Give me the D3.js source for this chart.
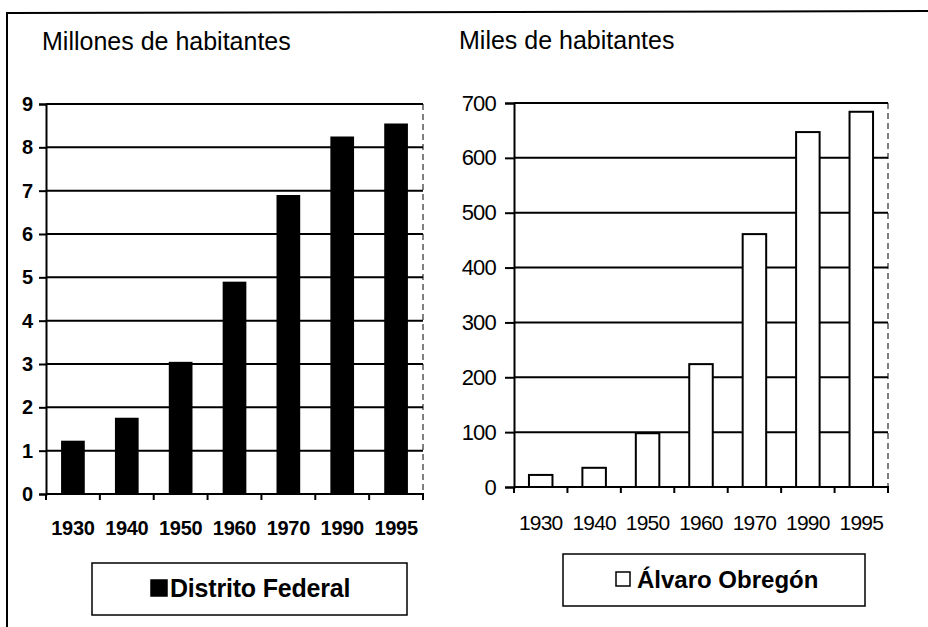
<!DOCTYPE html>
<html>
<head>
<meta charset="utf-8">
<script src="https://cdn.jsdelivr.net/npm/d3@7"></script>
<style>
  html, body { margin: 0; padding: 0; background: #fff; }
  svg { display: block; font-family: "Liberation Sans", Arial, sans-serif; }
</style>
</head>
<body>
<svg id="chart" width="928" height="627"></svg>
<script>
// ---- data ----
const years = ["1930", "1940", "1950", "1960", "1970", "1990", "1995"];
const distritoFederal = [1.23, 1.76, 3.05, 4.9, 6.9, 8.25, 8.55];   // millones
const alvaroObregon = [22, 35, 98, 224, 461, 647, 684];            // miles
const leftTicks = [0, 1, 2, 3, 4, 5, 6, 7, 8, 9];
const rightTicks = [0, 100, 200, 300, 400, 500, 600, 700];
const leftTitle = "Millones de habitantes";
const rightTitle = "Miles de habitantes";
const leftLegend = "Distrito Federal";
const rightLegend = "Álvaro Obregón";

const svg = d3.select("#chart");

// outer frame (cut off at right/bottom)
svg.append("path")
  .attr("d", "M7,640 L7,13 L940,11")
  .attr("fill", "none").attr("stroke", "#000").attr("stroke-width", 2);

function panel(cfg) {
  const g = svg.append("g");
  const x = d3.scaleBand().domain(years).range([cfg.x0, cfg.x1]).paddingInner(0.56).paddingOuter(0.28);
  const xb = d3.scaleBand().domain(years).range([cfg.x0, cfg.x1]);
  const y = d3.scaleLinear().domain([0, cfg.max]).range([cfg.y0, cfg.y1]);

  // plot area right border (dashed)
  g.append("line")
    .attr("x1", cfg.x1).attr("x2", cfg.x1).attr("y1", cfg.y1).attr("y2", cfg.y0)
    .attr("stroke", "#000").attr("stroke-width", 1).attr("stroke-dasharray", "6,4");

  // gridlines
  g.selectAll(".grid").data(cfg.ticks.filter(d => d > 0)).join("line")
    .attr("x1", cfg.x0).attr("x2", cfg.x1)
    .attr("y1", d => y(d)).attr("y2", d => y(d))
    .attr("stroke", "#000").attr("stroke-width", 2);

  // bars
  g.selectAll(".bar").data(cfg.values).join("rect")
    .attr("x", (d, i) => x(years[i]))
    .attr("width", x.bandwidth())
    .attr("y", d => y(d))
    .attr("height", d => y(0) - y(d))
    .attr("fill", cfg.fill)
    .attr("stroke", "#000").attr("stroke-width", cfg.fill === "#000" ? 0 : 2);

  // y axis
  const yAxis = d3.axisLeft(y).tickValues(cfg.ticks).tickSize(cfg.tickLen).tickPadding(cfg.tickPad).tickFormat(d3.format("d"));
  const ya = g.append("g").attr("transform", `translate(${cfg.x0},0)`).call(yAxis);
  ya.select(".domain").attr("stroke", "#000").attr("stroke-width", 2);
  ya.selectAll(".tick line").attr("stroke", "#000").attr("stroke-width", 2);
  ya.selectAll(".tick text")
    .attr("fill", "#000")
    .style("font-family", "'Liberation Sans', Arial, sans-serif")
    .style("font-size", cfg.yFont + "px")
    .style("font-weight", cfg.bold ? "bold" : "normal")
    .style("letter-spacing", cfg.yLs + "px");

  // x axis (ticks at category boundaries)
  const xa = g.append("g");
  xa.append("line").attr("x1", cfg.x0).attr("x2", cfg.x1 + 1).attr("y1", cfg.y0).attr("y2", cfg.y0)
    .attr("stroke", "#000").attr("stroke-width", 2);
  const bounds = years.map(d => xb(d)).concat([cfg.x1]);
  xa.selectAll(".xt").data(bounds).join("line")
    .attr("x1", d => d).attr("x2", d => d).attr("y1", cfg.y0).attr("y2", cfg.y0 + 6)
    .attr("stroke", "#000").attr("stroke-width", 2);
  xa.selectAll(".xl").data(years).join("text")
    .attr("x", d => xb(d) + xb.bandwidth() / 2)
    .attr("y", cfg.xLabelY)
    .attr("text-anchor", "middle")
    .style("font-size", cfg.xFont + "px")
    .style("font-weight", cfg.bold ? "bold" : "normal")
    .style("letter-spacing", cfg.xLs + "px")
    .text(d => d);

  // title
  g.append("text").attr("x", cfg.titleX).attr("y", cfg.titleY)
    .style("font-size", cfg.titleFont + "px").text(cfg.title);

  // legend
  const L = cfg.legend;
  g.append("rect").attr("x", L.x).attr("y", L.y).attr("width", L.w).attr("height", L.h)
    .attr("fill", "#fff").attr("stroke", "#000").attr("stroke-width", 1.5);
  g.append("rect").attr("x", L.sx).attr("y", L.sy).attr("width", L.ss).attr("height", L.ss)
    .attr("fill", cfg.fill).attr("stroke", "#000").attr("stroke-width", 1.5);
  g.append("text").attr("x", L.tx).attr("y", L.ty)
    .style("font-size", L.font + "px").style("font-weight", "bold")
    .style("letter-spacing", L.ls + "px")
    .text(L.text);
}

panel({
  x0: 46, x1: 423, y0: 494, y1: 104, max: 9, ticks: leftTicks, values: distritoFederal,
  fill: "#000", bold: true, tickLen: 7, tickPad: 6, yFont: 20, yLs: 0,
  xFont: 20, xLs: -0.3, xLabelY: 535,
  title: leftTitle, titleX: 42, titleY: 50, titleFont: 25,
  legend: { x: 92, y: 563, w: 315, h: 52, sx: 151, sy: 580, ss: 16, tx: 170, ty: 597, font: 25, ls: -0.2, text: leftLegend }
});

panel({
  x0: 514, x1: 888, y0: 487, y1: 103, max: 700, ticks: rightTicks, values: alvaroObregon,
  fill: "#fff", bold: false, tickLen: 9, tickPad: 9, yFont: 22, yLs: -0.8,
  xFont: 21, xLs: -0.8, xLabelY: 530,
  title: rightTitle, titleX: 459, titleY: 49, titleFont: 25,
  legend: { x: 563, y: 554, w: 302, h: 52, sx: 616, sy: 572, ss: 14, tx: 637, ty: 588, font: 24, ls: 0, text: rightLegend }
});
</script>
</body>
</html>
